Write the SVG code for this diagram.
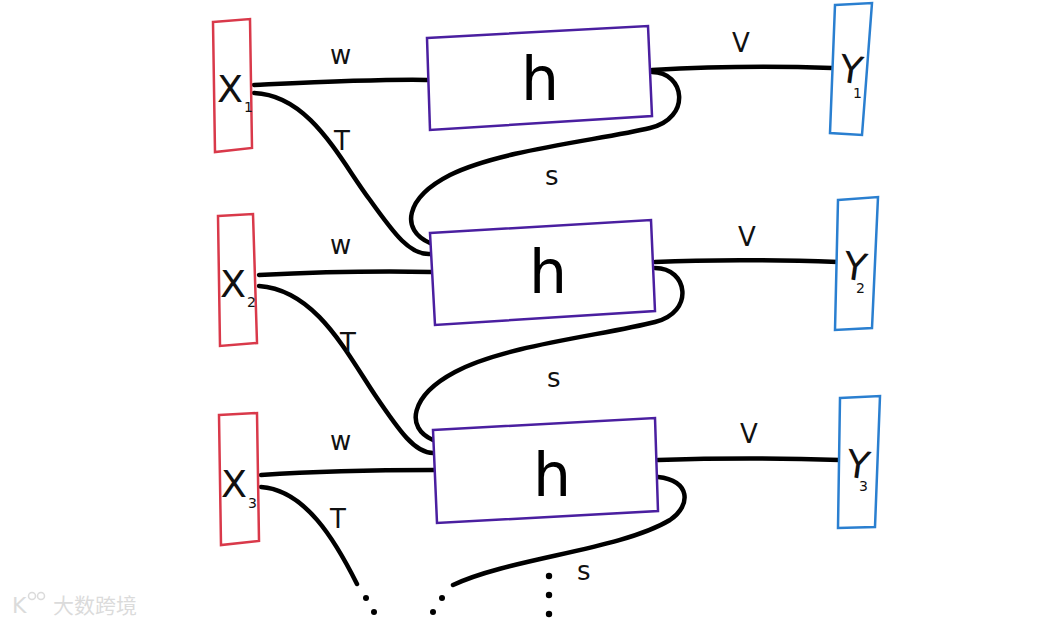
<svg xmlns="http://www.w3.org/2000/svg" width="1050" height="624" viewBox="0 0 1050 624">
<style>
.xb{fill:#fff;stroke:#d9394a;stroke-width:2.5}
.yb{fill:#fff;stroke:#2a7fd0;stroke-width:2.5}
.hb{fill:#fff;stroke:#4a1fa0;stroke-width:2.5}
.c{fill:none;stroke:#000;stroke-width:4.5;stroke-linecap:round}
.lbl{font-family:"DejaVu Sans","Liberation Sans",sans-serif;font-size:26px;fill:#111}
.h{font-family:"DejaVu Sans","Liberation Sans",sans-serif;font-size:60px;fill:#000;text-anchor:middle}
.xl{font-family:"DejaVu Sans","Liberation Sans",sans-serif;font-size:38px;fill:#111;text-anchor:middle}
.sub{font-family:"DejaVu Sans","Liberation Sans",sans-serif;font-size:14px;fill:#111}
.dot{fill:#000}
</style>
<rect width="1050" height="624" fill="#fff"/>
<g id="connectors">
<path class="c" d="M254,85 C320,82 380,79 427,80"/>
<path class="c" d="M254,93 C310,95 340,160 370,200 C395,235 410,255 430,254"/>
<path class="c" d="M652,70 C720,66 780,66 832,68"/>
<path class="c" d="M652,72 C685,72 692,118 650,128 C600,140 500,150 450,175 C405,198 400,230 430,243"/>
<path class="c" d="M259,275 C320,272 380,271 431,272"/>
<path class="c" d="M259,286 C315,290 345,350 375,395 C400,432 415,453 433,453"/>
<path class="c" d="M655,262 C720,259 780,260 838,262"/>
<path class="c" d="M655,268 C688,268 695,312 655,322 C605,335 505,345 455,372 C410,396 405,428 433,440"/>
<path class="c" d="M261,475 C320,471 380,470 434,470"/>
<path class="c" d="M261,487 C305,490 335,540 357,584"/>
<path class="c" d="M658,460 C720,458 780,458 840,460"/>
<path class="c" d="M658,477 C690,480 692,505 670,520 C620,550 510,558 453,585"/>
</g>
<g id="dots">
<circle class="dot" cx="366" cy="598" r="3"/>
<circle class="dot" cx="374" cy="612" r="3"/>
<circle class="dot" cx="442" cy="598" r="3"/>
<circle class="dot" cx="433" cy="612" r="3"/>
<circle class="dot" cx="549" cy="576" r="3.2"/>
<circle class="dot" cx="549" cy="595" r="3.2"/>
<circle class="dot" cx="549" cy="614" r="3.2"/>
</g>
<g id="labels">
<text class="lbl" x="330" y="64">w</text>
<text class="lbl" x="334" y="150">T</text>
<text class="lbl" x="732" y="52">V</text>
<text class="lbl" x="545" y="185">s</text>
<text class="lbl" x="330" y="254">w</text>
<text class="lbl" x="340" y="352">T</text>
<text class="lbl" x="738" y="246">V</text>
<text class="lbl" x="547" y="387">s</text>
<text class="lbl" x="330" y="450">w</text>
<text class="lbl" x="330" y="528">T</text>
<text class="lbl" x="740" y="443">V</text>
<text class="lbl" x="577" y="580">s</text>
</g>
<g id="x1"><polygon class="xb" points="213,22 250,19 252,148 215,152"/><text class="xl" x="230" y="102">X</text><text class="sub" x="244" y="112">1</text></g>
<g id="x2"><polygon class="xb" points="218,216 253,214 257,343 220,346"/><text class="xl" x="233" y="297">X</text><text class="sub" x="247" y="307">2</text></g>
<g id="x3"><polygon class="xb" points="219,415 257,413 259,541 221,545"/><text class="xl" x="234" y="497">X</text><text class="sub" x="248" y="508">3</text></g>
<g id="h1"><polygon class="hb" points="427,38 648,26 652,116 430,130"/><text class="h" x="540" y="100">h</text></g>
<g id="h2"><polygon class="hb" points="430,233 651,220 655,311 435,325"/><text class="h" x="548" y="293">h</text></g>
<g id="h3"><polygon class="hb" points="433,430 655,418 658,511 437,523"/><text class="h" x="552" y="496">h</text></g>
<g id="y1"><polygon class="yb" points="835,5 872,3 862,135 830,133"/><text class="xl" x="851" y="83" font-size="34" transform="rotate(8 851 70)">Y</text><text class="sub" x="853" y="98">1</text></g>
<g id="y2"><polygon class="yb" points="838,200 878,197 872,328 835,330"/><text class="xl" x="855" y="280" font-size="34" transform="rotate(8 855 268)">Y</text><text class="sub" x="856" y="293">2</text></g>
<g id="y3"><polygon class="yb" points="840,398 880,396 875,527 838,528"/><text class="xl" x="858" y="478" font-size="34" transform="rotate(8 858 466)">Y</text><text class="sub" x="859" y="491">3</text></g>
<g id="watermark" opacity="0.35">
<text x="12" y="613" font-family="DejaVu Sans,sans-serif" font-size="22" fill="#999">K</text>
<circle cx="32" cy="596" r="3.5" fill="none" stroke="#999" stroke-width="1.5"/>
<circle cx="41" cy="596" r="3.5" fill="none" stroke="#999" stroke-width="1.5"/>
<text x="53" y="613" font-family="Noto Sans CJK SC,sans-serif" font-size="21" fill="#999">大数跨境</text>
</g>
</svg>
